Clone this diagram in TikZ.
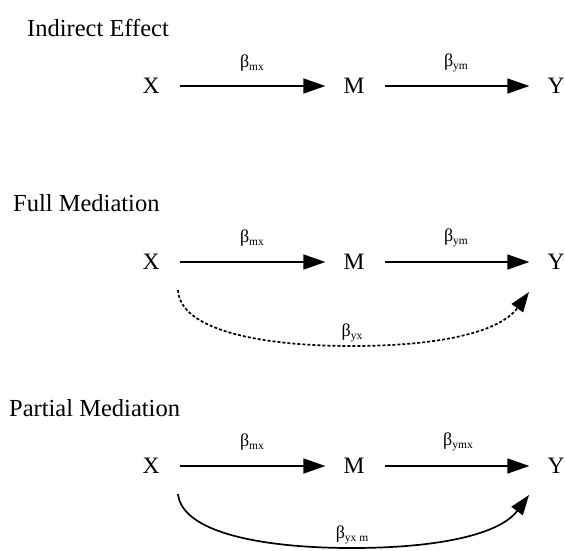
\documentclass[tikz,border=0pt]{standalone}
\usepackage{fontspec}
\setmainfont{Liberation Serif}
\usetikzlibrary{arrows.meta}
\newcommand{\bsub}[1]{{\fontsize{18}{18}\selectfont β\lower3pt\hbox{\fontsize{11.5}{11.5}\selectfont #1}}}
\begin{document}
\begin{tikzpicture}[x=1pt,y=-1pt,
  title/.style={anchor=west, font=\fontsize{24.5}{28}\selectfont, inner sep=0pt},
  var/.style={font=\fontsize{23.5}{27}\selectfont, inner sep=0pt},
  lab/.style={inner sep=0pt},
  arr/.style={line width=1.7pt, -{Triangle[length=22pt,width=15pt]}, shorten <=20pt, shorten >=18pt},
  carr/.style={line width=1.7pt, -{Triangle[length=20pt,width=14pt]}},
  dsh/.style={dash pattern=on 3pt off 2pt}
]
\useasboundingbox (0,0) rectangle (565,550);

% Indirect effect
\node[title] (t1) at (27,28) {Indirect Effect};
\node[var] (X1) at (151,86) {X};
\node[var] (M1) at (354,86) {M};
\node[var] (Y1) at (556,86) {Y};
\draw[arr] (X1) -- (M1);
\draw[arr] (M1) -- (Y1);
\node[lab] (b1a) at (252,63) {\bsub{mx}};
\node[lab] (b1b) at (456,63) {\bsub{ym}};

% Full mediation
\node[title] (t2) at (13,203) {Full Mediation};
\node[var] (X2) at (151,262) {X};
\node[var] (M2) at (354,262) {M};
\node[var] (Y2) at (556,262) {Y};
\draw[arr] (X2) -- (M2);
\draw[arr] (M2) -- (Y2);
\node[lab] (b2a) at (252,238) {\bsub{mx}};
\node[lab] (b2b) at (456,238) {\bsub{ym}};
\coordinate (fs) at (178,290);
\coordinate (fb) at (352,346);
\coordinate (fe) at (529,292);
\draw[carr,dsh] (fs) .. controls (180,330) and (260,346) .. (fb)
   .. controls (440,346) and (500,332) .. (fe);
\node[lab] (b2c) at (352,333) {\bsub{yx}};

% Partial mediation
\node[title] (t3) at (9,408) {Partial Mediation};
\node[var] (X3) at (151,466) {X};
\node[var] (M3) at (354,466) {M};
\node[var] (Y3) at (556,466) {Y};
\draw[arr] (X3) -- (M3);
\draw[arr] (M3) -- (Y3);
\node[lab] (b3a) at (252,442) {\bsub{mx}};
\node[lab] (b3b) at (458,442) {\bsub{ymx}};
\coordinate (ps) at (178,494);
\coordinate (pb) at (352,548);
\coordinate (pe) at (529,495);
\draw[carr] (ps) .. controls (182,532) and (260,548) .. (pb)
   .. controls (440,548) and (500,534) .. (pe);
\node[lab] (b3c) at (352,535) {\bsub{yx m}};
\end{tikzpicture}
\end{document}
